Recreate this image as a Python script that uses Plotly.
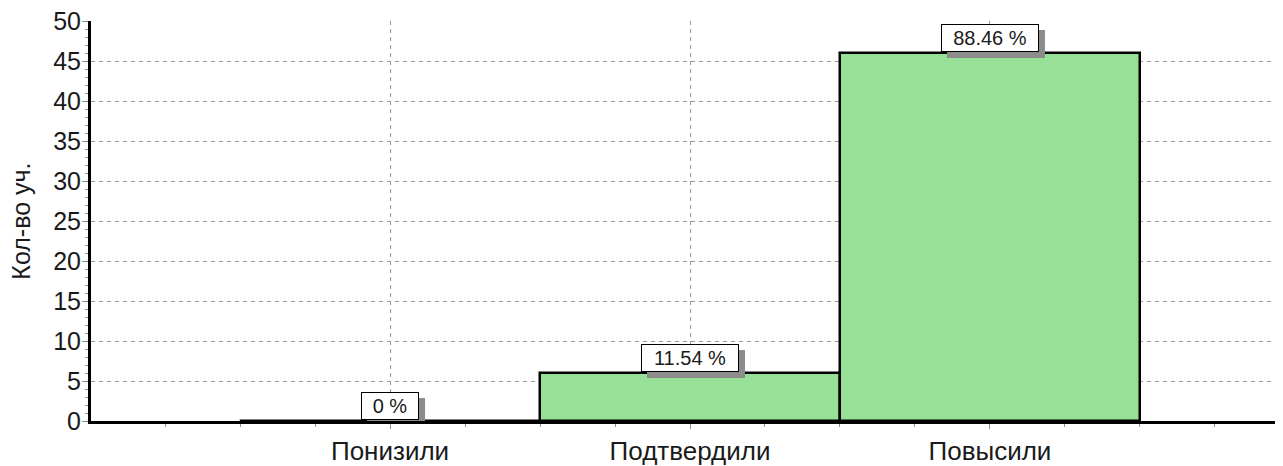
import plotly.graph_objects as go

categories = ["Понизили", "Подтвердили", "Повысили"]
counts = [0, 6, 46]
y_title = "Кол-во уч."

total = sum(counts)
percents = [f"{round(c / total * 100, 2):g} %" for c in counts]
xpos = list(range(len(categories)))

FONT = "Liberation Sans"
TXT = "#1a1a1a"

fig = go.Figure()
fig.add_trace(go.Bar(
    x=xpos, y=counts, width=1,
    marker=dict(color="#98E098", line=dict(color="black", width=2.5)),
    hoverinfo="skip",
))

annotations = []
shapes = []
PAD, BW, H = 3, 1, 20
for x, c, p in zip(xpos, counts, percents):
    w = 10 * len(p) + 20
    wt = w + 2 * PAD + 2 * BW
    ht = H + 2 * PAD + 2 * BW
    # drop shadow (pixel-sized rectangle anchored at the bar top)
    shapes.append(dict(
        type="rect", xref="x", yref="y",
        xsizemode="pixel", ysizemode="pixel", xanchor=x, yanchor=c,
        x0=-wt / 2 + 6, x1=wt / 2 + 6, y0=1 - 6, y1=1 + ht - 6,
        fillcolor="#8c8c8c", line=dict(width=0), layer="above",
    ))
    annotations.append(dict(
        x=x, y=c, xref="x", yref="y", text=p, showarrow=False,
        yanchor="bottom", xanchor="center", xshift=0, yshift=1,
        width=w, height=H,
        font=dict(family=FONT, size=20, color=TXT),
        bgcolor="white", bordercolor="black", borderwidth=BW, borderpad=PAD,
    ))

annotations.append(dict(
    x=-0.059, y=0.5, xref="paper", yref="paper", text=y_title, showarrow=False,
    textangle=-90, xanchor="center", yanchor="middle",
    font=dict(family=FONT, size=25, color=TXT),
))

fig.update_layout(
    width=1275, height=458,
    margin=dict(l=83, r=0, t=13, b=45),
    paper_bgcolor="white", plot_bgcolor="white",
    showlegend=False,
    annotations=annotations,
    shapes=shapes,
    font=dict(family=FONT, color=TXT),
    xaxis=dict(
        range=[-0.997, 2.977],
        tickmode="array", tickvals=xpos, ticktext=categories,
        tickfont=dict(family=FONT, size=26, color=TXT),
        showline=True, linecolor="black", linewidth=3,
        showgrid=True, gridcolor="#9a9a9a", griddash="4px,4px", gridwidth=1,
        ticks="outside", ticklen=5, tickcolor="#909090", tickwidth=1,
        minor=dict(dtick=0.25, tick0=0, ticks="outside", ticklen=3,
                   tickcolor="#909090", showgrid=False),
        zeroline=False, fixedrange=True,
    ),
    yaxis=dict(
        range=[0, 50], dtick=5, tick0=0,
        tickfont=dict(family=FONT, size=25, color=TXT),
        ticklabeloverflow="allow", ticklabelstandoff=-4,
        showline=True, linecolor="black", linewidth=3,
        showgrid=True, gridcolor="#9a9a9a", griddash="4px,4px", gridwidth=1,
        ticks="outside", ticklen=6, tickcolor="#909090", tickwidth=1,
        minor=dict(dtick=1, ticks="outside", ticklen=3, tickcolor="#909090", showgrid=False),
        zeroline=False, fixedrange=True,
    ),
    bargap=0,
)

fig.write_html("out.html")
